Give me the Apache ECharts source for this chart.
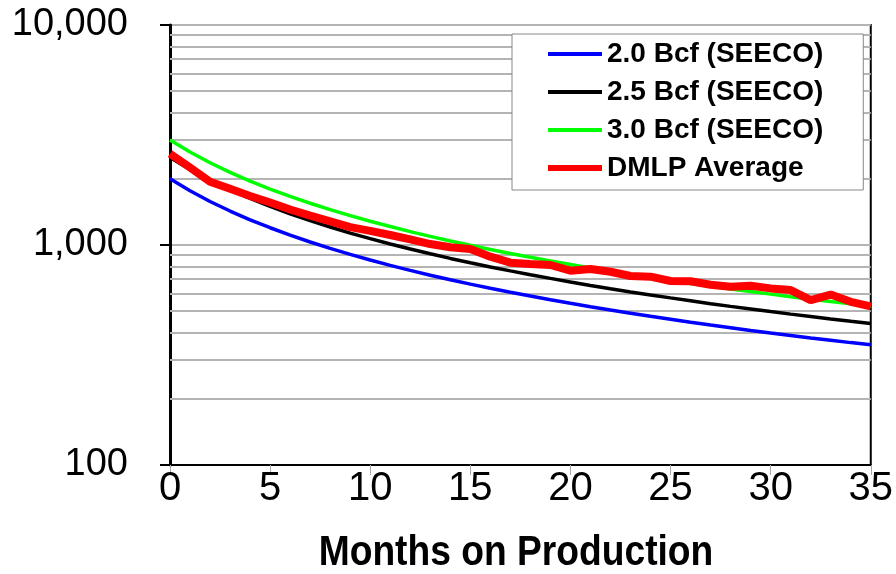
<!DOCTYPE html>
<html>
<head>
<meta charset="utf-8">
<script src="https://cdn.jsdelivr.net/npm/echarts@6/dist/echarts.min.js"></script>
<style>
html,body{margin:0;padding:0;background:#fff;}
#chart{width:896px;height:574px;}
</style>
</head>
<body>
<div id="chart"></div>
<script>
// Months on production
const months = [0,1,2,3,4,5,6,7,8,9,10,11,12,13,14,15,16,17,18,19,20,21,22,23,24,25,26,27,28,29,30,31,32,33,34,35];
// Type curves
const bcf20 = [2000,1764,1577,1427,1302,1198,1109,1032,965,907,855,808,767,729,695,664,636,610,586,564,543,524,506,490,474,460,446,433,421,409,398,388,378,369,360,352];
const bcf25 = [2500,2205,1972,1783,1628,1497,1386,1290,1207,1133,1069,1011,959,912,869,831,795,763,733,705,679,655,633,612,593,575,558,541,526,512,498,485,473,461,450,440];
const bcf30 = [3000,2645,2366,2140,1953,1796,1663,1548,1448,1360,1282,1213,1150,1094,1043,997,954,915,879,846,815,786,760,735,712,690,669,650,631,614,598,582,567,553,540,527];
const dmlp  = [2600,2250,1940,1800,1670,1560,1450,1360,1280,1205,1160,1110,1060,1010,976,959,885,831,820,811,764,778,756,723,718,686,684,660,646,653,635,624,562,595,552,526];
// Axis settings
const minorGrid = [200,300,400,500,600,700,800,900,2000,3000,4000,5000,6000,7000,8000,9000];
const seriesNames = ['2.0 Bcf (SEECO)','2.5 Bcf (SEECO)','3.0 Bcf (SEECO)','DMLP Average'];
const xTitle = 'Months on Production';

function pairs(arr){ return months.map((m,i)=>[m,arr[i]]); }
function fmt(v){ return String(Math.round(v)).replace(/\B(?=(\d{3})+(?!\d))/g, ','); }

// legend icons: a bar of given thickness centred in a 54x14 box (tiny corner points keep the box)
function barIcon(th){
  const a = (14-th)/2, b = a+th;
  return 'path://M0,0L0.01,0L0,0.01Z M0,'+a+'H54V'+b+'H0Z M54,14L53.99,14L54,13.99Z';
}

const chart = echarts.init(document.getElementById('chart'), null, {renderer:'canvas'});
chart.setOption({
  animation:false,
  backgroundColor:'#fff',
  grid:{left:170,right:24,top:25,bottom:109,show:true,borderColor:'#000',borderWidth:2,backgroundColor:'transparent'},
  legend:{
    data:[
      {name:seriesNames[0],icon:barIcon(4)},
      {name:seriesNames[1],icon:barIcon(4)},
      {name:seriesNames[2],icon:barIcon(4)},
      {name:seriesNames[3],icon:barIcon(6)}
    ],
    orient:'vertical',
    left:512, top:34, z:10,
    padding:[6,40,8,36],
    itemGap:10,
    itemWidth:54, itemHeight:14,
    backgroundColor:'#fff',
    borderColor:'#888', borderWidth:1,
    textStyle:{fontFamily:'Liberation Sans, Arial, sans-serif',fontWeight:'bold',fontSize:28,color:'#000',lineHeight:28}
  },
  graphic:[{
    type:'text', x:516, y:553,
    style:{text:xTitle, font:'bold 43px "Liberation Sans", Arial, sans-serif', fill:'#000', textAlign:'center', textVerticalAlign:'middle'},
    scaleX:0.865
  }],
  xAxis:{
    type:'value', min:0, max:35, interval:5,
    axisLine:{show:true,lineStyle:{color:'#000',width:2}},
    axisTick:{show:true,length:10,lineStyle:{color:'#aaa',width:1}},
    splitLine:{show:false},
    axisLabel:{fontFamily:'Liberation Sans, Arial, sans-serif',fontSize:40,color:'#000',margin:4}
  },
  yAxis:{
    type:'log', logBase:10, min:100, max:10000,
    axisLine:{show:true,lineStyle:{color:'#000',width:3}},
    axisTick:{show:true,length:10,lineStyle:{color:'#000',width:2}},
    splitLine:{show:true,lineStyle:{color:'#b4b4b4',width:2}},
    axisLabel:{fontFamily:'Liberation Sans, Arial, sans-serif',fontSize:38,color:'#000',margin:42,formatter:fmt}
  },
  series:[
    {name:'grid', type:'line', data:[], z:1, silent:true,
     markLine:{silent:true,symbol:'none',label:{show:false},animation:false,z:1,
       lineStyle:{color:'#b4b4b4',width:2,type:'solid'},
       data:minorGrid.map(v=>({yAxis:v}))}},
    {name:seriesNames[0], type:'line', data:pairs(bcf20), showSymbol:false, symbol:'none', z:3, lineStyle:{color:'#0000ff',width:3.5}, itemStyle:{color:'#0000ff'}},
    {name:seriesNames[1], type:'line', data:pairs(bcf25), showSymbol:false, symbol:'none', z:3, lineStyle:{color:'#000000',width:3.5}, itemStyle:{color:'#000000'}},
    {name:seriesNames[2], type:'line', data:pairs(bcf30), showSymbol:false, symbol:'none', z:3, lineStyle:{color:'#00ff00',width:3.5}, itemStyle:{color:'#00ff00'}},
    {name:seriesNames[3], type:'line', data:pairs(dmlp), showSymbol:false, symbol:'none', z:4, lineStyle:{color:'#ff0000',width:8}, itemStyle:{color:'#ff0000'}}
  ]
});
</script>
</body>
</html>
